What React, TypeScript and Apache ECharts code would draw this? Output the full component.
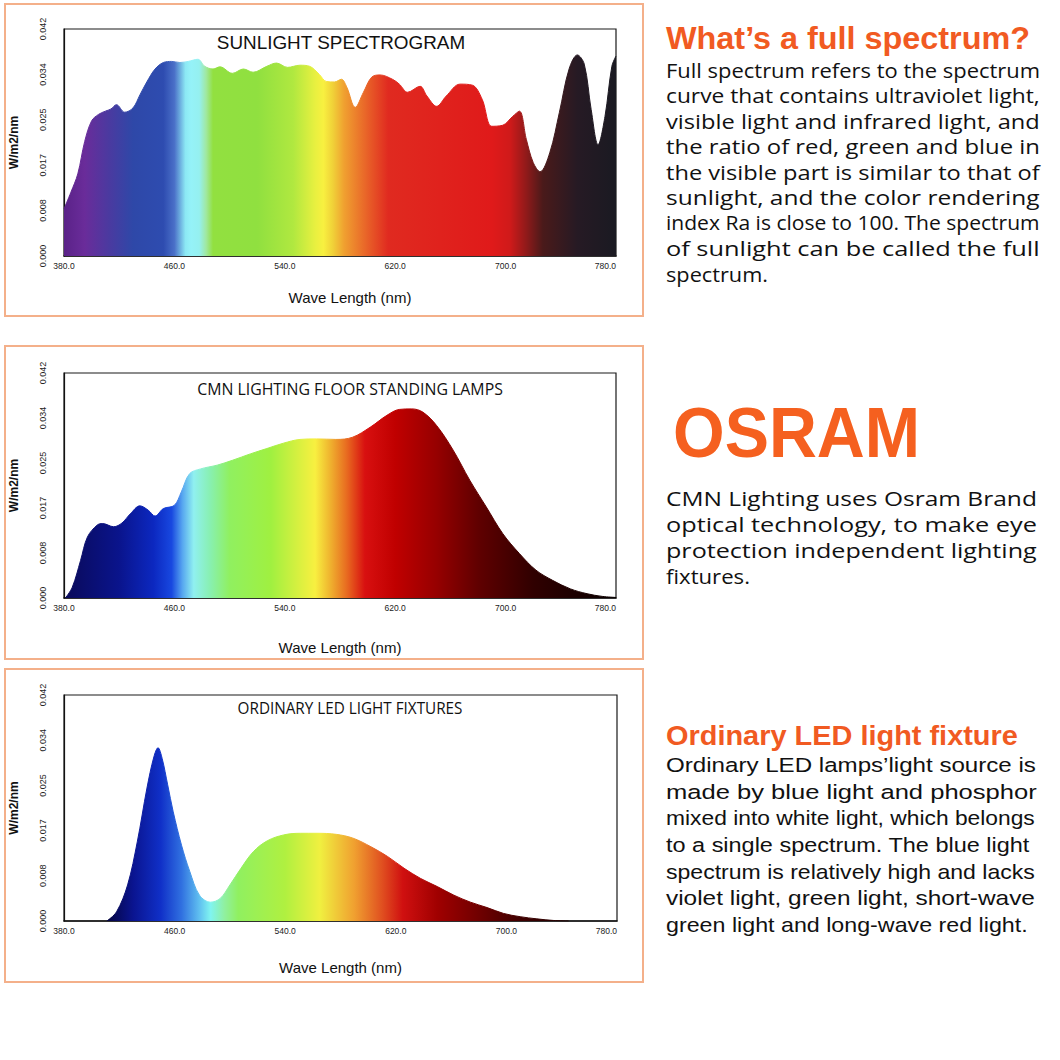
import React, { useEffect, useRef } from 'react';
import * as echarts from 'echarts';

// ---------- DATA ----------
const xTickValues = [380, 460, 540, 620, 700, 780];
const yTickValues = [0, 0.0084, 0.0168, 0.0252, 0.0336, 0.042];

const chartTitles = ['SUNLIGHT SPECTROGRAM', 'CMN LIGHTING FLOOR STANDING LAMPS', 'ORDINARY LED LIGHT FIXTURES'];

const sunWavelength = [380, 385, 390, 395, 400, 405, 410, 414, 418, 424, 430, 435, 440, 446, 452, 458, 464, 470, 477, 482, 488, 493, 502, 510, 517, 527, 534, 542, 551, 558, 565, 570, 576, 581, 585, 591, 597, 603, 609, 618, 623, 629, 638, 643, 650, 657, 667, 676, 683, 690, 698, 705, 710, 715, 720, 725, 732, 739, 746, 752, 757, 762, 767, 772, 777, 780];
const sunPower = [0.0087, 0.0118, 0.0152, 0.0212, 0.025, 0.0262, 0.0268, 0.0272, 0.028, 0.0266, 0.0274, 0.0298, 0.0322, 0.0346, 0.0358, 0.036, 0.0358, 0.036, 0.0364, 0.0351, 0.0346, 0.035, 0.0338, 0.0346, 0.034, 0.0351, 0.0357, 0.0349, 0.0353, 0.0351, 0.0336, 0.0323, 0.0322, 0.0327, 0.0312, 0.0275, 0.0303, 0.0331, 0.0335, 0.0327, 0.0318, 0.0303, 0.0314, 0.0296, 0.0277, 0.0296, 0.0318, 0.0316, 0.029, 0.024, 0.0242, 0.0258, 0.0268, 0.0216, 0.0173, 0.0156, 0.0191, 0.0266, 0.0346, 0.0372, 0.0355, 0.0271, 0.0206, 0.0258, 0.0351, 0.037];

const cmnWavelength = [381, 386, 392, 397, 404, 408, 416, 422, 428, 435, 441, 446, 452, 460, 465, 471, 479, 491, 502, 515, 527, 539, 551, 563, 577, 589, 602, 614, 623, 632, 640, 650, 662, 674, 686, 698, 710, 722, 734, 747, 759, 770, 780];
const cmnPower = [0, 0.002, 0.007, 0.0114, 0.0136, 0.0139, 0.0133, 0.014, 0.0157, 0.0172, 0.0164, 0.0153, 0.0167, 0.0173, 0.0198, 0.0232, 0.0241, 0.0248, 0.0257, 0.0269, 0.0279, 0.0289, 0.0296, 0.0297, 0.0296, 0.03, 0.0319, 0.0341, 0.0352, 0.0353, 0.0347, 0.0322, 0.0276, 0.022, 0.017, 0.012, 0.0083, 0.0052, 0.0033, 0.0017, 0.0008, 0.0003, 0.0001];

const ledWavelength = [411, 418, 426, 433, 440, 445, 448, 451, 455, 459, 465, 471, 478, 486, 493, 500, 508, 517, 527, 539, 551, 563, 577, 589, 602, 614, 626, 638, 650, 662, 674, 686, 698, 710, 722, 734, 745];
const ledPower = [0, 0.0017, 0.0067, 0.0147, 0.0247, 0.0305, 0.0322, 0.0302, 0.0253, 0.0203, 0.0141, 0.0092, 0.0048, 0.0035, 0.0042, 0.0067, 0.0098, 0.0129, 0.0149, 0.016, 0.0163, 0.0163, 0.0161, 0.0154, 0.0138, 0.012, 0.0098, 0.0079, 0.0064, 0.0048, 0.0035, 0.0025, 0.0014, 0.0008, 0.0004, 0.0001, 0];

const xAxisName = 'Wave Length (nm)';
const yAxisName = 'W/m2/nm';

const fullSpectrumTitle = 'What’s a full spectrum?';
const fullSpectrumLines = [
  'Full spectrum refers to the spectrum',
  'curve that contains ultraviolet light,',
  'visible light and infrared light, and',
  'the ratio of red, green and blue in',
  'the visible part is similar to that of',
  'sunlight, and the color rendering',
  'index Ra is close to 100. The spectrum',
  'of sunlight can be called the full',
  'spectrum.',
];
const brandTitle = 'OSRAM';
const brandLines = [
  'CMN Lighting uses Osram Brand',
  'optical technology, to make eye',
  'protection independent lighting',
  'fixtures.',
];
const ledTitle = 'Ordinary LED light fixture';
const ledLines = [
  'Ordinary LED lamps’light source is',
  'made by blue light and phosphor',
  'mixed into white light, which belongs',
  'to a single spectrum. The blue light',
  'spectrum is relatively high and lacks',
  'violet light, green light, short-wave',
  'green light and long-wave red light.',
];

// ---------- STYLE (colour stops per wavelength) ----------
const sunColors: [number, string][] = [
  [380, '#5a2288'], [395, '#6a2c9a'], [413, '#4a3aa0'], [430, '#2e48a8'], [452, '#2e4cb0'], [460, '#4a70c8'],
  [468, '#8ce8f4'], [472, '#95f2f8'], [478, '#95f0f0'], [483, '#a0e8a0'], [488, '#92e040'], [520, '#90e040'],
  [546, '#b0e840'], [562, '#e8f040'], [568, '#f8f040'], [575, '#f0d038'], [583, '#f0a030'], [600, '#e86028'],
  [615, '#e02a20'], [690, '#e01a1a'], [703, '#d01a1a'], [715, '#901a1a'], [727, '#4a1a1a'], [752, '#261a24'], [780, '#1a1a22'],
];
const cmnColors: [number, string][] = [
  [380, '#0a0a5a'], [420, '#0a148c'], [445, '#0c28c0'], [458, '#1848e0'], [466, '#58a8f0'], [474, '#90f0f0'],
  [486, '#88f0b0'], [500, '#90f060'], [530, '#a0f040'], [550, '#d8f040'], [562, '#f8f040'], [572, '#f0b830'],
  [585, '#e86a20'], [598, '#d81010'], [620, '#c00000'], [650, '#960000'], [680, '#600000'], [720, '#300000'], [780, '#080000'],
];
const ledColors: [number, string][] = [
  [410, '#050540'], [430, '#0a1490'], [450, '#1030c8'], [465, '#3070e0'], [478, '#60c0f0'], [486, '#80f4f0'],
  [496, '#90f0a0'], [506, '#90f060'], [540, '#b0f040'], [565, '#f0f040'], [590, '#f0a030'], [610, '#e05020'],
  [625, '#d01010'], [650, '#a00000'], [680, '#700000'], [710, '#400000'], [745, '#200000'],
];

const ORANGE = '#f15a22';
const BORDER = '#f4b08a';

// ---------- helpers ----------
let measureCtx: CanvasRenderingContext2D | null = null;
function textWidth(text: string, font: string) {
  if (!measureCtx) measureCtx = document.createElement('canvas').getContext('2d');
  measureCtx!.font = font;
  return measureCtx!.measureText(text).width;
}

function fittedText(text: string, x: number, y: number, size: number, family: string, weight: string, color: string, targetWidth: number, align = 'left') {
  const w = textWidth(text, `${weight} ${size}px ${family}`);
  const sx = w > 0 ? targetWidth / w : 1;
  return {
    type: 'text',
    x,
    y,
    scaleX: sx,
    silent: true,
    style: { text, fontSize: size, fontFamily: family, fontWeight: weight, fill: color, align, verticalAlign: 'middle' },
  };
}

function spectrumGradient(stops: [number, string][], wl: number[]) {
  const lo = wl[0];
  const hi = wl[wl.length - 1];
  return new echarts.graphic.LinearGradient(0, 0, 1, 0, stops.map(([w, c]) => ({
    offset: Math.min(1, Math.max(0, (w - lo) / (hi - lo))),
    color: c,
  })));
}

const panels = [
  { wl: sunWavelength, p: sunPower, colors: sunColors, grid: { left: 64, top: 29, width: 552, height: 227 }, titleFont: 'Liberation Sans', titleSize: 18.5, titleX: 341, titleY: 43, titleW: 249, nameGap: 34, namePad: 20, border: [5, 4, 638, 312] },
  { wl: cmnWavelength, p: cmnPower, colors: cmnColors, grid: { left: 64, top: 373, width: 552, height: 225 }, titleFont: 'Open Sans', titleSize: 15.5, titleX: 350, titleY: 389, titleW: 306, nameGap: 42, namePad: 0, border: [5, 346, 638, 313] },
  { wl: ledWavelength, p: ledPower, colors: ledColors, grid: { left: 64, top: 695, width: 553, height: 226 }, titleFont: 'Open Sans', titleSize: 15.5, titleX: 350, titleY: 708, titleW: 225, nameGap: 39, namePad: 0, border: [5, 669, 638, 313] },
];

function buildOption() {
  const grids: any[] = [];
  const xAxes: any[] = [];
  const yAxes: any[] = [];
  const series: any[] = [];
  const graphics: any[] = [];

  panels.forEach((pn, i) => {
    grids.push({ ...pn.grid, show: true, borderColor: '#1a1a1a', borderWidth: 1.2, backgroundColor: 'transparent' });
    xAxes.push({
      gridIndex: i,
      type: 'value',
      min: xTickValues[0],
      max: xTickValues[xTickValues.length - 1],
      interval: xTickValues[1] - xTickValues[0],
      axisLine: { show: true, lineStyle: { color: '#111', width: 1.5 } },
      axisTick: { show: false },
      splitLine: { show: false },
      axisLabel: { formatter: (v: number) => v.toFixed(1), fontSize: 8.5, color: '#222', margin: 5, fontFamily: 'Liberation Sans', alignMaxLabel: 'right' },
      name: xAxisName,
      nameLocation: 'middle',
      nameGap: pn.nameGap,
      nameTextStyle: { fontSize: 15, color: '#111', fontFamily: 'Liberation Sans', padding: [0, 0, 0, pn.namePad] },
    });
    yAxes.push({
      gridIndex: i,
      type: 'value',
      min: yTickValues[0],
      max: yTickValues[yTickValues.length - 1],
      interval: yTickValues[1] - yTickValues[0],
      axisLine: { show: true, lineStyle: { color: '#111', width: 1.2 } },
      axisTick: { show: false },
      splitLine: { show: false },
      axisLabel: { rotate: 90, formatter: (v: number) => v.toFixed(3), fontSize: 9, color: '#222', margin: 17, fontFamily: 'Liberation Sans' },
      name: yAxisName,
      nameLocation: 'middle',
      nameGap: 44,
      nameTextStyle: { fontSize: 12, fontWeight: 'bold', color: '#111', fontFamily: 'Liberation Sans' },
    });
    series.push({
      type: 'line',
      xAxisIndex: i,
      yAxisIndex: i,
      data: pn.wl.map((w, j) => [w, pn.p[j]]),
      showSymbol: false,
      smooth: 0.35,
      silent: true,
      lineStyle: { width: 1, color: spectrumGradient(pn.colors, pn.wl) },
      areaStyle: { color: spectrumGradient(pn.colors, pn.wl), opacity: 1 },
    });
    const [bx, by, bw, bh] = pn.border;
    graphics.push({ type: 'rect', shape: { x: bx, y: by, width: bw, height: bh }, style: { fill: 'none', stroke: BORDER, lineWidth: 2 }, silent: true });
    graphics.push(fittedText(chartTitles[i], pn.titleX, pn.titleY, pn.titleSize, pn.titleFont, 'normal', '#111', pn.titleW, 'center'));
  });

  // right-hand texts
  const LX = 666;
  graphics.push(fittedText(fullSpectrumTitle, LX, 38, 32, 'Liberation Sans', 'bold', ORANGE, 1030 - LX));
  fullSpectrumLines.forEach((t, k) => {
    const right = k === fullSpectrumLines.length - 1 ? 768 : 1040;
    graphics.push(fittedText(t, LX, 69.5 + k * 25.5, 20.5, 'Open Sans', 'normal', '#111', right - LX));
  });
  graphics.push(fittedText(brandTitle, 673, 433, 71, 'Liberation Sans', 'bold', '#f5601f', 247));
  brandLines.forEach((t, k) => {
    const right = k === brandLines.length - 1 ? 750 : 1037;
    graphics.push(fittedText(t, LX, 498 + k * 26, 20.5, 'Open Sans', 'normal', '#111', right - LX));
  });
  graphics.push(fittedText(ledTitle, LX, 735, 28.5, 'Liberation Sans', 'bold', ORANGE, 1018 - LX));
  const ledRights = [1036, 1037, 1035, 1030, 1035, 1035, 1028];
  ledLines.forEach((t, k) => {
    graphics.push(fittedText(t, LX, 765 + k * 26.67, 20.5, 'Liberation Sans', 'normal', '#111', ledRights[k] - LX));
  });

  return {
    animation: false,
    backgroundColor: '#ffffff',
    grid: grids,
    xAxis: xAxes,
    yAxis: yAxes,
    series,
    graphic: { elements: graphics },
  };
}

export default function App() {
  const ref = useRef<HTMLDivElement>(null);
  useEffect(() => {
    if (!ref.current) return;
    const chart = echarts.init(ref.current, null, { renderer: 'svg', width: 1060, height: 1060 });
    chart.setOption(buildOption() as any);
    return () => chart.dispose();
  }, []);
  return (
    <div
      ref={ref}
      style={{ position: 'absolute', left: 0, top: 0, width: 1060, height: 1060, background: '#fff' }}
    />
  );
}
